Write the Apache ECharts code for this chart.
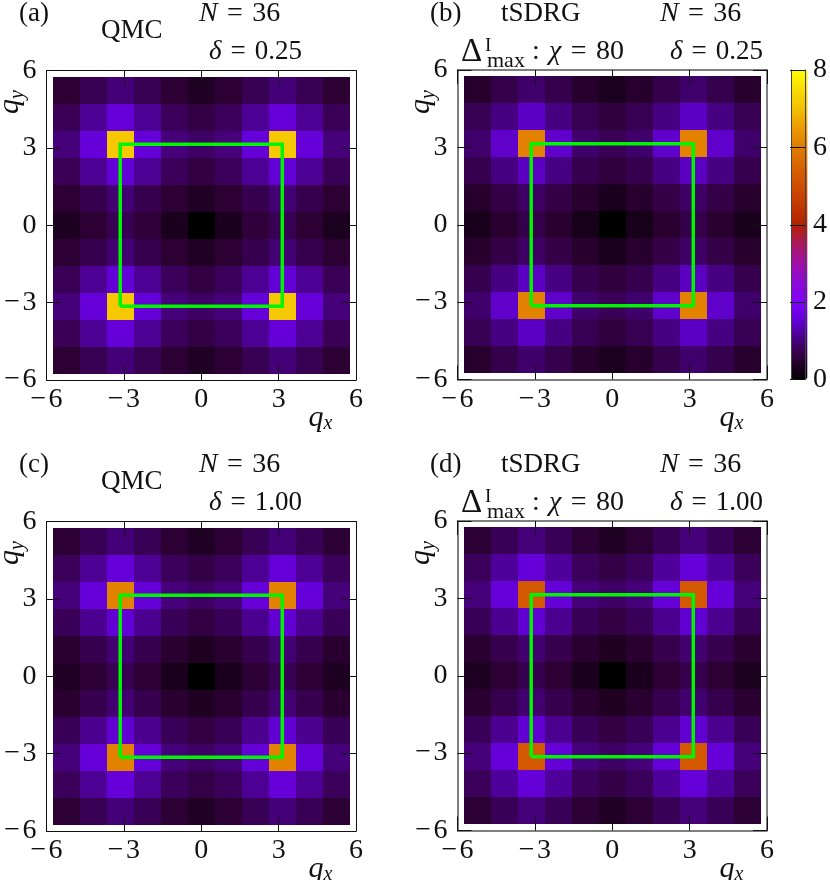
<!DOCTYPE html>
<html><head><meta charset="utf-8">
<script src="https://cdn.jsdelivr.net/npm/echarts@6/dist/echarts.min.js"></script>
<style>html,body{margin:0;padding:0;background:#fff}#c{width:830px;height:880px}</style>
</head><body><div id="c"></div>
<script>
// Momentum points (q = 2*pi*k/6)
const qGrid = [-5.236,-4.189,-3.142,-2.094,-1.047,0,1.047,2.094,3.142,4.189,5.236];
const squareCorner = 3.142;
const axisTicks = [-6,-3,0,3,6];
const barTicks = [0,2,4,6,8];

// rows run from qy = +5.236 (top) to qy = -5.236 (bottom)
const panelA = [
 [.50,.72,.98,.72,.52,.36,.52,.72,.98,.72,.50],
 [.75,1.15,1.55,1.15,.78,.63,.78,1.15,1.55,1.15,.75],
 [1.0,1.55,7.15,1.55,1.0,.85,1.0,1.55,7.15,1.55,1.0],
 [.75,1.15,1.52,1.15,.78,.62,.78,1.15,1.52,1.15,.75],
 [.50,.70,.95,.70,.50,.37,.50,.70,.95,.70,.50],
 [.34,.50,.72,.55,.30,0,.30,.55,.72,.50,.32],
 [.50,.70,.95,.70,.50,.37,.50,.70,.95,.70,.50],
 [.75,1.15,1.52,1.15,.78,.62,.78,1.15,1.52,1.15,.75],
 [1.0,1.55,7.15,1.55,1.0,.85,1.0,1.55,7.15,1.55,1.0],
 [.75,1.15,1.55,1.15,.78,.63,.78,1.15,1.55,1.15,.75],
 [.50,.72,.98,.72,.52,.36,.52,.72,.98,.72,.50]
];
const panelB = [
 [.45,.68,.90,.68,.45,.32,.45,.68,.90,.68,.45],
 [.72,1.05,1.42,1.05,.72,.58,.72,1.05,1.42,1.05,.72],
 [.90,1.45,6.10,1.45,.90,.75,.90,1.45,6.10,1.45,.90],
 [.70,1.05,1.40,1.05,.70,.58,.70,1.05,1.40,1.05,.70],
 [.45,.65,.85,.65,.45,.30,.45,.65,.85,.65,.45],
 [.28,.48,.66,.48,.26,0,.26,.48,.66,.48,.28],
 [.45,.65,.85,.65,.45,.30,.45,.65,.85,.65,.45],
 [.70,1.05,1.40,1.05,.70,.58,.70,1.05,1.40,1.05,.70],
 [.90,1.45,6.10,1.45,.90,.75,.90,1.45,6.10,1.45,.90],
 [.72,1.05,1.42,1.05,.72,.58,.72,1.05,1.42,1.05,.72],
 [.45,.68,.90,.68,.45,.32,.45,.68,.90,.68,.45]
];
const panelC = [
 [.52,.74,.98,.74,.52,.38,.52,.74,.98,.74,.52],
 [.78,1.15,1.55,1.15,.78,.65,.78,1.15,1.55,1.15,.78],
 [1.0,1.55,6.10,1.55,1.0,.85,1.0,1.55,6.10,1.55,1.0],
 [.76,1.12,1.50,1.12,.76,.62,.76,1.12,1.50,1.12,.76],
 [.48,.70,.95,.70,.48,.35,.48,.70,.95,.70,.48],
 [.36,.52,.72,.52,.30,0,.30,.52,.72,.52,.34],
 [.48,.70,.95,.70,.48,.35,.48,.70,.95,.70,.48],
 [.76,1.12,1.50,1.12,.76,.62,.76,1.12,1.50,1.12,.76],
 [1.0,1.55,6.10,1.55,1.0,.85,1.0,1.55,6.10,1.55,1.0],
 [.78,1.15,1.55,1.15,.78,.65,.78,1.15,1.55,1.15,.78],
 [.52,.74,.98,.74,.52,.38,.52,.74,.98,.74,.52]
];
const panelD = [
 [.52,.76,1.0,.76,.52,.38,.52,.76,1.0,.76,.52],
 [.78,1.18,1.55,1.18,.78,.65,.78,1.18,1.55,1.18,.78],
 [1.0,1.55,5.25,1.55,1.0,.85,1.0,1.55,5.25,1.55,1.0],
 [.76,1.12,1.50,1.12,.76,.62,.76,1.12,1.50,1.12,.76],
 [.48,.70,.92,.70,.48,.35,.48,.70,.92,.70,.48],
 [.34,.50,.70,.50,.30,0,.30,.50,.70,.50,.32],
 [.48,.70,.92,.70,.48,.35,.48,.70,.92,.70,.48],
 [.76,1.12,1.50,1.12,.76,.62,.76,1.12,1.50,1.12,.76],
 [1.0,1.55,5.25,1.55,1.0,.85,1.0,1.55,5.25,1.55,1.0],
 [.78,1.18,1.55,1.18,.78,.65,.78,1.18,1.55,1.18,.78],
 [.52,.76,1.0,.76,.52,.38,.52,.76,1.0,.76,.52]
];
const palette = ['#000000','#2c0032','#45007a','#6200d4','#7f00ff','#8e08d8','#a00fa8','#ad1860','#b42000',
 '#c23800','#cf4c00','#d86400','#e07c00','#eb9a00','#f3c000','#f9dc00','#ffff00'];

const SERIF = '"Liberation Serif", serif';
const panels = [
 {m:panelA,left:46.5,top:70.5,frame:'#111',lw:1},
 {m:panelB,left:457.5,top:70,frame:'#555',lw:1.5},
 {m:panelC,left:46.5,top:521.5,frame:'#111',lw:1},
 {m:panelD,left:457.5,top:521,frame:'#555',lw:1.5}
];
const SIZE = 309.5;

const grid=[], xAxis=[], yAxis=[], series=[], graphic=[];
const half = (qGrid[1]-qGrid[0])/2;
function fmt(v){return v<0?'\u2212\u200a'+(-v):''+v;}

panels.forEach((p,i)=>{
  grid.push({left:p.left,top:p.top,width:SIZE,height:SIZE,show:false});
  const line={show:true,onZero:false,lineStyle:{color:p.frame,width:p.lw}};
  const tick={show:true,inside:true,length:14,lineStyle:{color:'#111',width:1}};
  const base={type:'value',gridIndex:i,min:axisTicks[0],max:axisTicks[4],interval:3,z:5,splitLine:{show:false},axisLine:line,axisTick:tick};
  xAxis.push(Object.assign({},base,{position:'bottom',
    axisLabel:{show:true,hideOverlap:false,showMinLabel:true,showMaxLabel:true,margin:6,fontFamily:SERIF,fontSize:28,color:'#111',formatter:fmt}}));
  xAxis.push(Object.assign({},base,{position:'top',axisLabel:{show:false}}));
  yAxis.push(Object.assign({},base,{position:'left',
    axisLabel:{show:true,hideOverlap:false,showMinLabel:true,showMaxLabel:true,margin:10,fontFamily:SERIF,fontSize:28,color:'#111',formatter:fmt,padding:[0,0,4,0]}}));
  yAxis.push(Object.assign({},base,{position:'right',axisLabel:{show:false}}));

  const data=[];
  p.m.forEach((row,r)=>row.forEach((v,c)=>data.push([qGrid[c],qGrid[10-r],v])));
  series.push({type:'custom',xAxisIndex:i*2,yAxisIndex:i*2,coordinateSystem:'cartesian2d',data,z:2,
    dimensions:['qx','qy','value'],encode:{x:0,y:1},silent:true,
    renderItem:(params,api)=>{
      const a=api.coord([api.value(0)-half,api.value(1)+half]);
      const b=api.coord([api.value(0)+half,api.value(1)-half]);
      const x0=Math.round(a[0]),y0=Math.round(a[1]),x1=Math.round(b[0]),y1=Math.round(b[1]);
      return {type:'rect',shape:{x:x0,y:y0,width:x1-x0,height:y1-y0},style:{fill:api.visual('color')}};
    }});
  const s=squareCorner;
  series.push({type:'line',xAxisIndex:i*2,yAxisIndex:i*2,z:6,silent:true,symbol:'none',
    data:[[-s,-s],[s,-s],[s,s],[-s,s],[-s,-s]],
    lineStyle:{color:'#00f500',width:3.5,join:'miter'}});
});

// colour-bar axes
const bi=panels.length;
const barLine={show:true,onZero:false,lineStyle:{color:'#444'}};
grid.push({left:791.5,top:70,width:16,height:SIZE,show:false});
xAxis.push({type:'value',gridIndex:bi,min:0,max:1,position:'bottom',z:5,axisTick:{show:false},axisLabel:{show:false},splitLine:{show:false},axisLine:barLine});
xAxis.push({type:'value',gridIndex:bi,min:0,max:1,position:'top',z:5,axisTick:{show:false},axisLabel:{show:false},splitLine:{show:false},axisLine:barLine});
yAxis.push({type:'value',gridIndex:bi,min:barTicks[0],max:barTicks[4],interval:2,position:'right',z:5,splitLine:{show:false},
  axisLine:barLine,
  axisTick:{show:true,inside:true,length:15,lineStyle:{color:'#111',width:1}},
  axisLabel:{show:true,margin:8,showMinLabel:true,showMaxLabel:true,hideOverlap:false,fontFamily:SERIF,fontSize:28,color:'#111',padding:[0,0,6,0]}});
yAxis.push({type:'value',gridIndex:bi,min:0,max:8,position:'left',z:5,splitLine:{show:false},axisTick:{show:false},axisLabel:{show:false},axisLine:barLine});
series.push({type:'line',xAxisIndex:bi*2,yAxisIndex:bi*2,data:[],silent:true});

// text
function T(text,x,y,opt){
  const o=Object.assign({size:28,align:'left'},opt||{});
  graphic.push({type:'text',x,y,rotation:o.rot||0,z:20,silent:true,style:{
    text,fill:'#111',fontFamily:SERIF,fontSize:o.size,textAlign:o.align,textVerticalAlign:'middle',
    fontStyle:o.italic?'italic':'normal',
    rich:{i:{fontFamily:SERIF,fontSize:o.size,fontStyle:'italic',fill:'#111'},
          n:{fontFamily:SERIF,fontSize:o.size,fill:'#111'}}
  }});
}
const EQ='\u2004=\u2004';
[0,451].forEach((dy,row)=>{
  const delta=row===0?'0.25':'1.00';
  T(row===0?'(a)':'(c)',19,14+dy,{size:27});
  T('QMC',101,31+dy,{size:27});
  T('{i|N}{n|'+EQ+'36}',199,14+dy);
  T('{i|\u03b4}{n|'+EQ+delta+'}',209,52+dy,{size:27});
  T(row===0?'(b)':'(d)',430,14+dy,{size:27});
  T('tSDRG',501,14+dy,{size:27});
  T('{i|N}{n|'+EQ+'36}',660,14+dy);
  T('\u0394',461,52+dy,{size:33});
  T('I',485,46+dy,{size:19});
  T('max',487,61+dy,{size:22});
  T('{n|:}\u2004{i|\u03c7}{n|'+EQ+'80}',532,52+dy);
  T('{i|\u03b4}{n|'+EQ+delta+'}',670,52+dy,{size:27});
  [46.5,457.5].forEach(l=>{
    T('q',l+262,418+dy,{italic:true,size:30});
    T('x',l+277,424+dy,{italic:true,size:20});
    T('q',l-36,114+dy,{italic:true,size:30,rot:Math.PI/2});
    T('y',l-29,99+dy,{italic:true,size:20,rot:Math.PI/2});
  });
});

const option={
  backgroundColor:'#fff',animation:false,
  grid,xAxis,yAxis,series,graphic,
  visualMap:{type:'continuous',min:barTicks[0],max:barTicks[4],dimension:2,
    seriesIndex:panels.map((_,i)=>i*2),
    inRange:{color:palette},orient:'vertical',left:791.5,top:70,itemWidth:16,itemHeight:SIZE,padding:0,
    calculable:false,hoverLink:false,realtime:false,z:4,textStyle:{fontSize:1,color:'transparent'}}
};
echarts.init(document.getElementById('c')).setOption(option);
</script></body></html>
